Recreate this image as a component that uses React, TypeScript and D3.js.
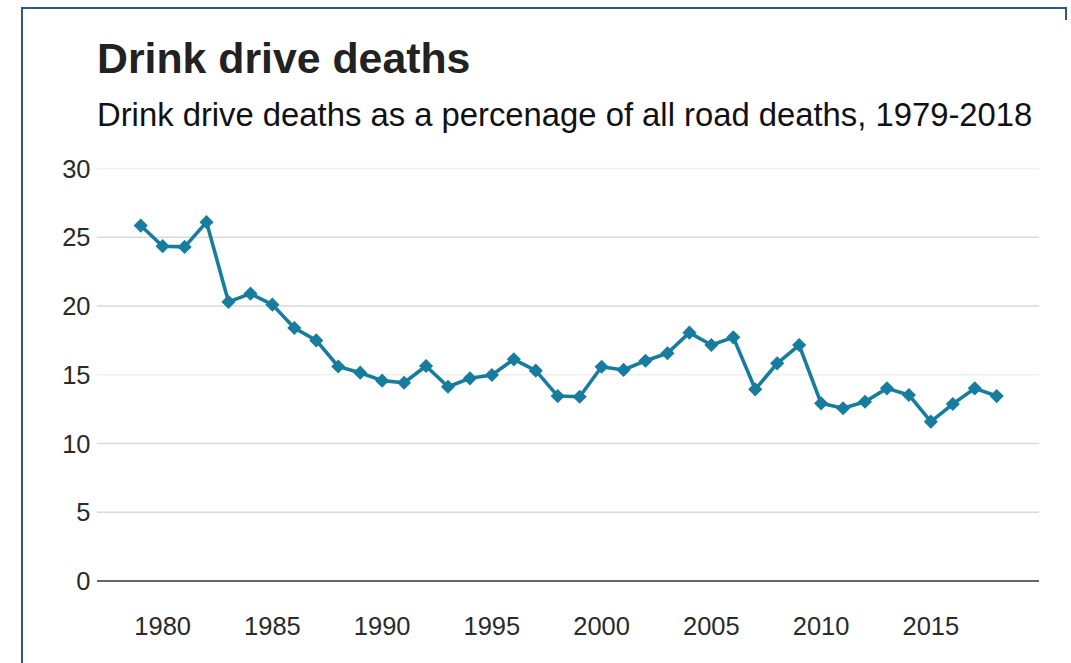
import React from "react";
import * as d3 from "d3";

const years: number[] = [
  1979, 1980, 1981, 1982, 1983, 1984, 1985, 1986, 1987, 1988, 1989, 1990, 1991, 1992,
  1993, 1994, 1995, 1996, 1997, 1998, 1999, 2000, 2001, 2002, 2003, 2004, 2005, 2006,
  2007, 2008, 2009, 2010, 2011, 2012, 2013, 2014, 2015, 2016, 2017, 2018,
];
const percentages: number[] = [
  25.85, 24.35, 24.3, 26.1, 20.3, 20.9, 20.1, 18.4, 17.5, 15.6, 15.15, 14.57, 14.42, 15.64,
  14.13, 14.74, 14.98, 16.12, 15.3, 13.45, 13.4, 15.58, 15.35, 16.02, 16.56, 18.06, 17.16, 17.72,
  13.94, 15.83, 17.16, 12.92, 12.56, 13.04, 14.01, 13.53, 11.59, 12.87, 14.01, 13.45,
];
const yTicks: number[] = [0, 5, 10, 15, 20, 25, 30];
const xTicks: number[] = [1980, 1985, 1990, 1995, 2000, 2005, 2010, 2015];
const title = "Drink drive deaths";
const subtitle = "Drink drive deaths as a percenage of all road deaths, 1979-2018";

const W = 1071;
const H = 663;

export default function App() {
  const x = d3.scaleLinear().domain([1979, 2018]).range([140.7, 996.7]);
  const y = d3.scaleLinear().domain([0, 30]).range([581, 168.5]);
  const data = years.map((yr, i) => ({ yr, v: percentages[i] }));
  const line = d3
    .line<{ yr: number; v: number }>()
    .x((d) => x(d.yr))
    .y((d) => y(d.v));
  const diamond = d3.symbol().type(d3.symbolSquare).size(100)() as string;
  const font = "'Liberation Sans', Arial, sans-serif";
  const gridLeft = 97;
  const gridRight = 1039;
  const teal = "#177d9e";

  return (
    <svg
      width={W}
      height={H}
      style={{ position: "absolute", left: 0, top: 0, background: "#fff" }}
      fontFamily={font}
    >
      <rect x={0} y={0} width={W} height={H} fill="#fff" />
      {/* frame */}
      <line x1={22} y1={8} x2={1067} y2={8} stroke="#2d5590" strokeWidth={2} />
      <line x1={22} y1={7} x2={22} y2={H} stroke="#2d5590" strokeWidth={2} />
      <line x1={1066} y1={7} x2={1066} y2={20} stroke="#2d5590" strokeWidth={2} />

      <text x={97} y={72.7} fontSize={42.8} fontWeight="bold" fill="#222">
        {title}
      </text>
      <text x={97} y={126} fontSize={32.8} fill="#111">
        {subtitle}
      </text>

      {/* grid */}
      {yTicks.map((t) =>
        t === 0 ? null : (
          <line
            key={"g" + t}
            x1={gridLeft}
            x2={gridRight}
            y1={y(t)}
            y2={y(t)}
            stroke={t === 30 || t === 15 ? "#efefef" : "#d9d9d9"}
            strokeWidth={1.5}
          />
        )
      )}
      <line x1={gridLeft} x2={gridRight} y1={y(0)} y2={y(0)} stroke="#666" strokeWidth={2} />

      {yTicks.map((t) => (
        <text
          key={"y" + t}
          x={90.5}
          y={y(t) + 9}
          fontSize={25.5}
          textAnchor="end"
          fill="#2a2a2a"
        >
          {t}
        </text>
      ))}
      {xTicks.map((t) => (
        <text key={"x" + t} x={x(t)} y={634.5} fontSize={25.5} textAnchor="middle" fill="#2a2a2a">
          {t}
        </text>
      ))}

      <path d={line(data) || ""} fill="none" stroke={teal} strokeWidth={3.6} strokeLinejoin="round" />
      {data.map((d) => (
        <path
          key={"m" + d.yr}
          d={diamond}
          transform={`translate(${x(d.yr)},${y(d.v)}) rotate(45)`}
          fill={teal}
        />
      ))}
    </svg>
  );
}
